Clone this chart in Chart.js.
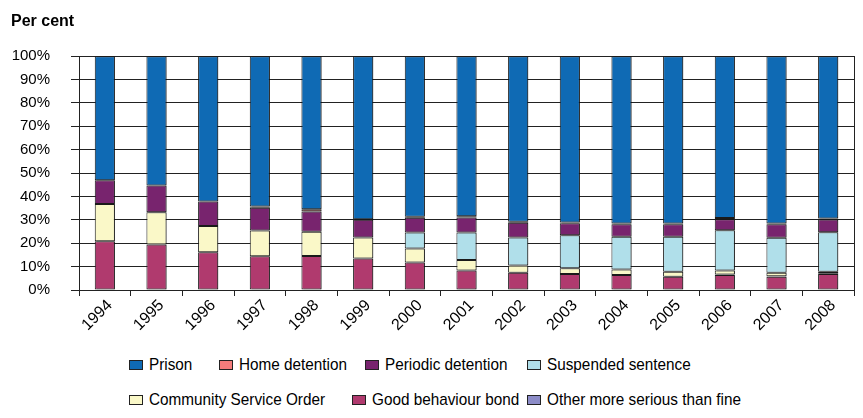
<!DOCTYPE html>
<html>
<head>
<meta charset="utf-8">
<script src="https://cdn.jsdelivr.net/npm/chart.js@4.4.1/dist/chart.umd.min.js"></script>
<style>
    html, body { margin: 0; padding: 0; background: #fff; }
    #wrap { position: relative; width: 863px; height: 418px; }
    #chartBox { position: absolute; left: 0; top: 0; width: 863px; height: 345px; }
    .lg { position: absolute; display: flex; align-items: center; white-space: nowrap; height: 20px;
          font-family: "Liberation Sans", Arial, sans-serif; font-size: 17px; color: #000; }
    .lg span.box { display: inline-block; width: 12px; height: 8px; border: 1px solid #222;
                   margin-right: 6px; flex: none; }
    .lg span.txt { display: inline-block; transform: scaleX(0.9); transform-origin: left center; }
</style>
</head>
<body>
<div id="wrap">
    <div id="chartBox"><canvas id="sentenceChart"></canvas></div>
    <div id="legend"></div>
</div>
<script>
// Years on the x axis
const years = ['1994','1995','1996','1997','1998','1999','2000','2001','2002','2003','2004','2005','2006','2007','2008'];

// Share of sentences, per cent
const prison            = [53.1, 55.3, 62.1, 64.3, 65.5, 69.7, 68.7, 68.5, 70.8, 71.1, 71.6, 71.6, 69.2, 71.6, 69.4];
const homeDetention     = [0, 0, 0, 0.5, 0.9, 0.3, 0.4, 0.5, 0.4, 0.3, 0.3, 0.3, 0.5, 0.3, 0.4];
const periodicDetention = [10.1, 11.4, 10.5, 9.7, 8.7, 7.5, 6.3, 6.4, 6.3, 5.2, 5.3, 5.3, 4.7, 5.7, 5.5];
const suspended         = [0, 0, 0, 0, 0, 0, 6.8, 11.8, 12.0, 14.1, 14.0, 15.0, 17.3, 15.0, 16.9];
const communityService  = [16.0, 13.8, 11.3, 11.1, 10.4, 9.0, 6.0, 4.5, 3.1, 2.5, 2.4, 2.1, 1.7, 1.5, 0.6];
const goodBehaviour     = [20.8, 19.5, 16.1, 14.4, 14.5, 13.5, 11.8, 8.3, 7.4, 6.8, 6.4, 5.7, 6.4, 5.7, 6.8];
const otherSerious      = [0, 0, 0, 0, 0, 0, 0, 0, 0, 0, 0, 0, 0.2, 0.2, 0.4];

const yTicks = [0, 10, 20, 30, 40, 50, 60, 70, 80, 90, 100];

const sans = '"Liberation Sans", Arial, sans-serif';

// stacked bottom-up
const datasets = [
    { label: 'Good behaviour bond', data: goodBehaviour, backgroundColor: '#B03A6E' },
    { label: 'Other more serious than fine', data: otherSerious, backgroundColor: '#8C8CC8' },
    { label: 'Community Service Order', data: communityService, backgroundColor: '#FAF8C8' },
    { label: 'Suspended sentence', data: suspended, backgroundColor: '#B0DFEA' },
    { label: 'Periodic detention', data: periodicDetention, backgroundColor: '#78246E' },
    { label: 'Home detention', data: homeDetention, backgroundColor: '#F47C7C' },
    { label: 'Prison', data: prison, backgroundColor: '#0F6AB4' }
];
datasets.forEach(ds => {
    // zero shares draw nothing
    ds.data = ds.data.map(v => v === 0 ? null : v);
    ds.borderColor = '#1a1a1a';
    ds.borderWidth = 1;
    ds.borderSkipped = false;
    ds.categoryPercentage = 1;
    ds.barPercentage = 0.39;
});

// soft grey shadow to the right of the bars
const barShadow = {
    id: 'barShadow',
    beforeDatasetsDraw(chart) {
        const ctx = chart.ctx;
        ctx.save();
        ctx.shadowColor = 'rgba(0,0,0,0.3)';
        ctx.shadowOffsetX = 2;
        ctx.shadowOffsetY = 0;
        ctx.shadowBlur = 0;
    },
    afterDatasetsDraw(chart) {
        chart.ctx.restore();
    }
};

const ctx = document.getElementById('sentenceChart').getContext('2d');
const chart = new Chart(ctx, {
    type: 'bar',
    data: { labels: years, datasets: datasets },
    options: {
        responsive: true,
        maintainAspectRatio: false,
        animation: false,
        layout: { padding: { left: 11, right: 8, top: 0, bottom: 0 } },
        plugins: {
            legend: { display: false },
            tooltip: { enabled: false },
            title: {
                display: true,
                text: 'Per cent',
                align: 'start',
                color: '#000',
                font: { family: sans, size: 16, weight: 'bold' },
                padding: { top: 12, bottom: 25 }
            }
        },
        scales: {
            x: {
                stacked: true,
                afterFit: s => { s.height = 55; },
                grid: { display: true, drawOnChartArea: false, color: '#222', tickLength: 6, offset: true },
                border: { color: '#222' },
                ticks: {
                    color: '#000',
                    minRotation: 45,
                    maxRotation: 45,
                    padding: 0,
                    labelOffset: 5,
                    font: { family: sans, size: 16 }
                }
            },
            y: {
                stacked: true,
                min: 0,
                max: 100,
                afterFit: s => { s.width = 68; },
                afterBuildTicks: s => { s.ticks = yTicks.map(v => ({ value: v })); },
                grid: { color: '#222', tickLength: 8 },
                border: { color: '#222' },
                ticks: {
                    color: '#000',
                    padding: 21,
                    font: { family: sans, size: 15 },
                    callback: v => v + '%'
                }
            },
            yRight: {
                position: 'right',
                min: 0,
                max: 100,
                afterFit: s => { s.width = 1; },
                grid: { display: false },
                border: { display: true, color: '#222' },
                ticks: { display: false }
            }
        }
    },
    plugins: [barShadow]
});

// legend laid out like the original (two rows)
const legendOrder = ['Prison', 'Home detention', 'Periodic detention', 'Suspended sentence',
                     'Community Service Order', 'Good behaviour bond', 'Other more serious than fine'];
const legendSpots = [[129, 355], [219, 355], [365, 355], [527, 355],
                     [129, 390], [352, 390], [527, 390]];
const legendEl = document.getElementById('legend');
legendOrder.forEach((name, i) => {
    const ds = datasets.find(d => d.label === name);
    const item = document.createElement('div');
    item.className = 'lg';
    item.style.left = legendSpots[i][0] + 'px';
    item.style.top = legendSpots[i][1] + 'px';
    const box = document.createElement('span');
    box.className = 'box';
    box.style.background = ds.backgroundColor;
    const txt = document.createElement('span');
    txt.className = 'txt';
    txt.textContent = name;
    item.appendChild(box);
    item.appendChild(txt);
    legendEl.appendChild(item);
});
</script>
</body>
</html>
